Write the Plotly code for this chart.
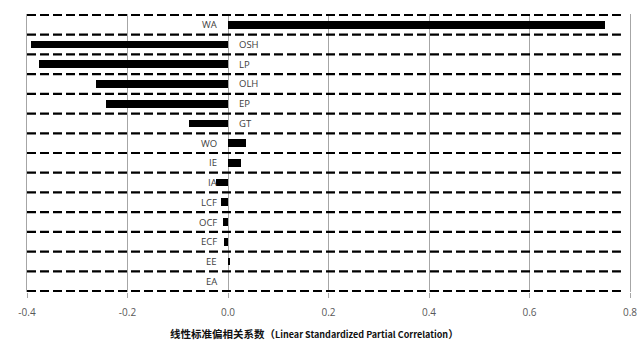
import plotly.graph_objects as go

# Variables, top to bottom, and their linear standardized partial correlations
variables = ["WA", "OSH", "LP", "OLH", "EP", "GT", "WO", "IE", "IA",
             "LCF", "OCF", "ECF", "EE", "EA"]
coefficients = [0.751, -0.393, -0.376, -0.263, -0.243, -0.077, 0.036,
                0.025, -0.023, -0.013, -0.009, -0.007, 0.003, 0.0]

x_ticks = [-0.4, -0.2, 0.0, 0.2, 0.4, 0.6, 0.8]
x_tick_text = ["-0.4", "-0.2", "0.0", "0.2", "0.4", "0.6", "0.8"]

axis_title = ("<b>线性标准偏相关系数（<span style='font-size:9px'>"
              "Linear Standardized Partial Correlation</span>）</b>")

fig = go.Figure()
fig.add_trace(go.Bar(
    x=coefficients, y=variables, orientation="h",
    marker=dict(color="black", line=dict(width=0)),
    width=0.39, showlegend=False, hoverinfo="x+y",
))

# Dashed separators between the rows
n = len(variables)
for i in range(n + 1):
    fig.add_shape(type="line", xref="paper", yref="y",
                  x0=0, x1=0.985, y0=i - 0.5, y1=i - 0.5,
                  line=dict(color="black", width=2.2, dash="9px,4px"))

# Variable names sit beside the zero line, opposite large negative bars
for name, v in zip(variables, coefficients):
    right = v < -0.05
    fig.add_annotation(x=0, y=name, xref="x", yref="y", text=name,
                       showarrow=False, xanchor="left" if right else "right",
                       xshift=9 if right else -9, yshift=0,
                       font=dict(family="Open Sans, Liberation Sans", size=9.5,
                                 color="#404040"))

fig.add_annotation(x=(314 - 27) / 603, y=-41 / 278, xref="paper", yref="paper",
                   text=axis_title, showarrow=False,
                   xanchor="center", yanchor="middle",
                   font=dict(family="Noto Sans CJK SC, Open Sans", size=10.5,
                             color="#111111"))

fig.update_xaxes(
    range=[-0.4, 0.8], tickvals=x_ticks, ticktext=x_tick_text,
    showgrid=True, gridcolor="#a6a6a6", gridwidth=1,
    zeroline=True, zerolinecolor="#a6a6a6", zerolinewidth=1,
    ticks="outside", ticklen=5, tickcolor="#a6a6a6",
    ticklabelstandoff=6, ticklabeloverflow="allow", automargin=False,
    tickfont=dict(family="Open Sans, Liberation Sans", size=10, color="#595959"),
    showline=False,
)
fig.update_yaxes(
    type="category", categoryorder="array", categoryarray=variables,
    range=[n - 0.45, -0.55], showticklabels=False, showgrid=False,
    zeroline=False, ticks="", automargin=False,
    showline=True, mirror=True, linecolor="#a6a6a6", linewidth=1,
)

fig.update_layout(
    width=637, height=340,
    margin=dict(l=27, r=7, t=14, b=48),
    paper_bgcolor="white", plot_bgcolor="white",
    bargap=0,
)

fig.write_html("out.html")
